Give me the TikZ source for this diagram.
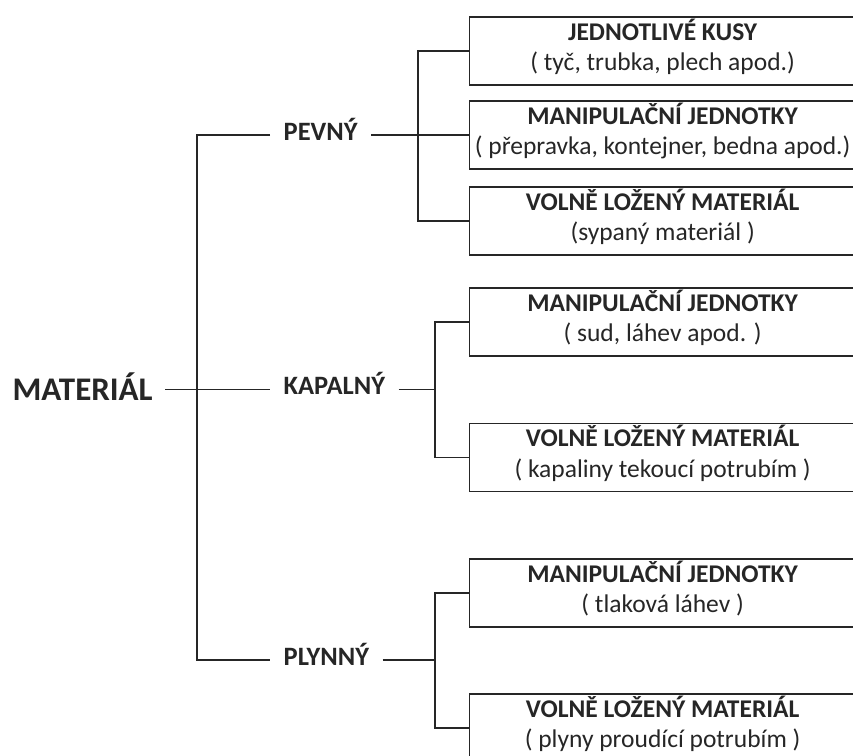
\documentclass[tikz,border=0pt]{standalone}
\usepackage{fontspec}
\setmainfont{Carlito}
\usetikzlibrary{positioning}
\newcommand{\boxlines}[2]{\textbf{#1}\\#2\rule[-12pt]{0pt}{0pt}}

\begin{document}
\begin{tikzpicture}[x=1pt,y=-1pt,line width=1.3pt,color=black!85]
        \tikzstyle{root}=[font=\fontsize{33}{38}\selectfont\bfseries,inner xsep=12pt,text height=22pt,text depth=0pt]
        \tikzstyle{kind}=[font=\fontsize{26.5}{30}\selectfont\bfseries,inner xsep=13pt,text height=10pt,text depth=0pt,anchor=west]
        \tikzstyle{box}=[draw,anchor=west,minimum width=386pt,minimum height=68pt,align=center,inner sep=0pt,font=\fontsize{25.5}{30.5}\selectfont]

        \useasboundingbox (0,0) rectangle (853,755);
        \clip (0,0) rectangle (853,755);

        \node[root,anchor=west] (mat) at (0,389.5) {MATERIÁL};
        \node[kind] (pev) at (270,135)   {PEVNÝ};
        \node[kind] (kap) at (270,389.5) {KAPALNÝ};
        \node[kind] (ply) at (270,660)   {PLYNNÝ};
        \coordinate (bus)  at (197,389.5);
        \coordinate (pbus) at (418,135);
        \coordinate (kbus) at (435,389.5);
        \coordinate (ybus) at (435,660);

        \node[box] (b1) at (469,51)    {\boxlines{JEDNOTLIVÉ KUSY}{( tyč, trubka, plech apod.)}};
        \node[box] (b2) at (469,135)   {\boxlines{MANIPULAČNÍ JEDNOTKY}{( přepravka, kontejner, bedna apod.)}};
        \node[box] (b3) at (469,221)   {\boxlines{VOLNĚ LOŽENÝ MATERIÁL}{(sypaný materiál )}};
        \node[box] (k1) at (469,322)   {\boxlines{MANIPULAČNÍ JEDNOTKY}{( sud, láhev apod. )}};
        \node[box] (k2) at (469,457.5) {\boxlines{VOLNĚ LOŽENÝ MATERIÁL}{( kapaliny tekoucí potrubím )}};
        \node[box] (p1) at (469,593)   {\boxlines{MANIPULAČNÍ JEDNOTKY}{( tlaková láhev )}};
        \node[box] (p2) at (469,728)   {\boxlines{VOLNĚ LOŽENÝ MATERIÁL}{( plyny proudící potrubím )}};

        \draw (mat.east) -- (kap.west);
        \draw (pev.west) -| (bus) |- (ply.west);
        \draw (pev.east) -- (b2.west);
        \draw (b1.west) -| (pbus) |- (b3.west);
        \draw (kap.east) -- (kbus);
        \draw (k1.west) -| (kbus) |- (k2.west);
        \draw (ply.east) -- (ybus);
        \draw (p1.west) -| (ybus) |- (p2.west);
\end{tikzpicture}
\end{document}
